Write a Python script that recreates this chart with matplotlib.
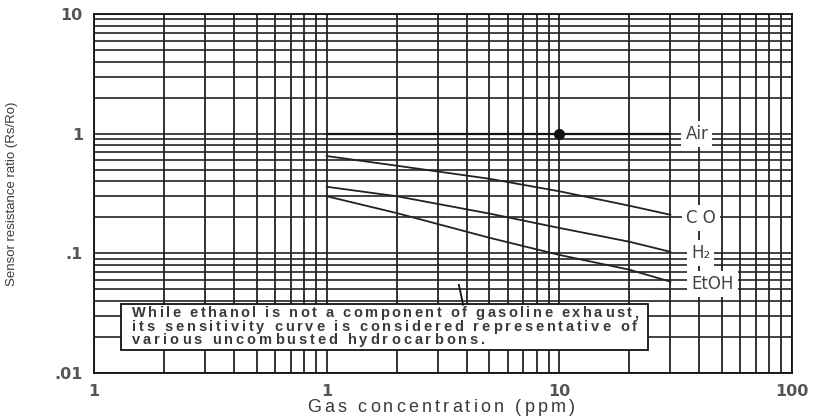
"""
Sensor resistance ratio vs gas concentration (log-log sensitivity chart).
"""
import matplotlib
matplotlib.use("Agg")
import matplotlib.pyplot as plt
import matplotlib.patches as mpatches
from matplotlib.ticker import FixedLocator, NullFormatter

W, H = 816, 417

# data
conc = [1, 2, 5, 10, 20, 30]
co = [0.65, 0.54, 0.42, 0.33, 0.25, 0.21]
h2 = [0.36, 0.30, 0.215, 0.163, 0.125, 0.103]
etoh = [0.30, 0.217, 0.135, 0.097, 0.073, 0.058]
air_conc = [1, 30]
air = [1.0, 1.0]
air_point = (10, 1.0)

x_ticks = [0.1, 1, 10, 100]
x_ticklabels = ["1", "1", "10", "100"]
y_ticks = [0.01, 0.1, 1, 10]
y_ticklabels = [".01", ".1", "1", "10"]

curve_labels = ["Air", "C O", "H\u2082", "EtOH"]
label_x = [39, 40.5, 40.5, 45.5]
label_y = [1.0, 0.198, 0.1005, 0.0555]

note_lines = [
    "While ethanol is not a component of gasoline exhaust,",
    "its sensitivity curve is considered representative of",
    "various uncombusted hydrocarbons.",
]

TXT = "#3a3a3a"

fig = plt.figure(figsize=(W / 100, H / 100), dpi=100)
ax = fig.add_axes([94 / W, 1 - 373 / H, (792 - 94) / W, (373 - 14) / H])
ax.set_xscale("log")
ax.set_yscale("log")
ax.set_xlim(0.1, 100)
ax.set_ylim(0.01, 10)

# full log grid, every line drawn
ax.xaxis.set_major_locator(FixedLocator(x_ticks))
ax.yaxis.set_major_locator(FixedLocator(y_ticks))
minor = [m * 10.0 ** e for e in range(-3, 3) for m in range(2, 10)]
ax.xaxis.set_minor_locator(FixedLocator(minor))
ax.yaxis.set_minor_locator(FixedLocator(minor))
ax.xaxis.set_minor_formatter(NullFormatter())
ax.yaxis.set_minor_formatter(NullFormatter())
ax.grid(which="both", axis="x", color="#111111", lw=1.2)
ax.grid(which="both", axis="y", color="#222222", lw=1.2)
ax.set_axisbelow(True)
for s in ax.spines.values():
    s.set_color("#111111")
    s.set_linewidth(1.3)

ax.set_xticks(x_ticks)
ax.set_xticklabels(x_ticklabels)
ax.set_yticks(y_ticks)
ax.set_yticklabels(y_ticklabels)
ax.tick_params(which="both", length=0)
ax.tick_params(axis="x", pad=8)
ax.tick_params(axis="y", pad=8)
for t in ax.get_xticklabels() + ax.get_yticklabels():
    t.set_fontfamily("DejaVu Sans")
    t.set_fontweight("bold")
    t.set_fontsize(11.5)
    t.set_color("#555555")

ax.set_ylabel("Sensor resistance ratio (Rs/Ro)", fontsize=9.5,
              family="Liberation Sans", color=TXT)
ax.yaxis.set_label_coords(-(94 - 18) / (792 - 94), 0.5)

# curves
ax.plot(air_conc, air, color="#111111", lw=1.6, zorder=3)
ax.plot(*air_point, "o", color="#111111", ms=7, zorder=4)
ax.plot(conc, co, color="#222222", lw=1.3, zorder=3)
ax.plot(conc, h2, color="#222222", lw=1.3, zorder=3)
ax.plot(conc, etoh, color="#222222", lw=1.3, zorder=3)

for name, lx, ly in zip(curve_labels, label_x, label_y):
    ax.text(lx, ly, name, ha="center", va="center", fontsize=12,
            family=["DejaVu Sans"], color="#444444", zorder=5,
            bbox=dict(boxstyle="square,pad=0.25", fc="white", ec="none"))

# note box
box = mpatches.Rectangle((0.13, 0.0156), 24 - 0.13, 0.0378 - 0.0156,
                         facecolor="white", edgecolor="#111111", lw=1.3, zorder=5)
ax.add_patch(box)
ax.plot([3.86, 3.70], [0.0372, 0.0545], color="#111111", lw=1.3, zorder=5)


def tracked_text(x_px, y_px, s, span_px, **kw):
    """Draw s letter by letter so it spans span_px (the scan is stretched)."""
    r = fig.canvas.get_renderer()

    def width(t):
        tx = fig.text(0, 0, t, **kw)
        w = tx.get_window_extent(r).width
        tx.remove()
        return w

    base = width("l")
    offs = [width(s[:i] + "l") - base for i in range(len(s))]
    gap = (span_px - width(s)) / (len(s) - 1)
    for i, ch in enumerate(s):
        if ch == " ":
            continue
        fig.text((x_px + offs[i] + i * gap) / W, 1 - y_px / H, ch,
                 ha="left", va="center", zorder=6, **kw)


note_kw = dict(fontsize=10.5, family="Liberation Sans", fontweight="bold", color=TXT)
tracked_text(132, 313, note_lines[0], 506, **note_kw)
tracked_text(132, 327, note_lines[1], 505, **note_kw)
tracked_text(132, 340, note_lines[2], 353, **note_kw)

tracked_text(307, 408, "Gas concentration (ppm)", 268,
             fontsize=13, family="Liberation Sans", color=TXT)

fig.savefig("out.png", dpi=100)
